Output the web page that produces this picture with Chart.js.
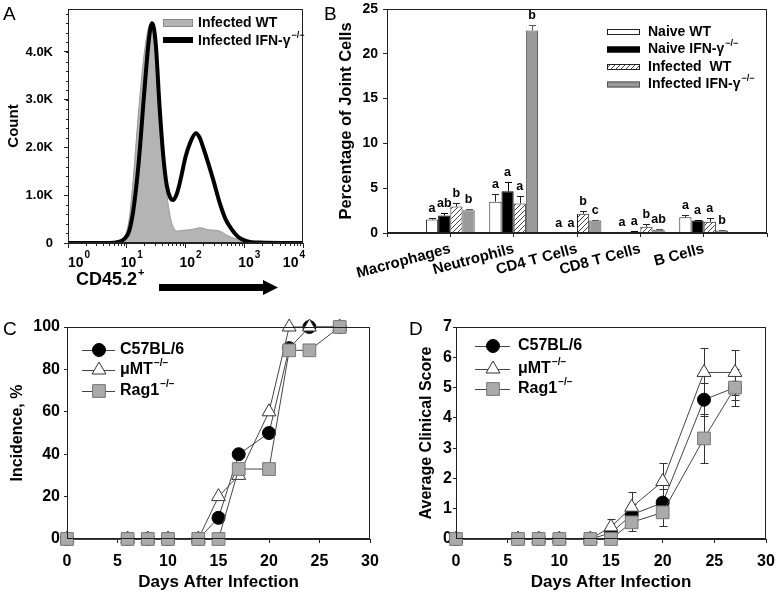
<!DOCTYPE html>
<html>
<head>
<meta charset="utf-8">
<script src="https://cdn.jsdelivr.net/npm/chart.js@4.4.1/dist/chart.umd.min.js"></script>
<style>
body { margin: 0; background: #fff; width: 776px; height: 600px; position: relative; overflow: hidden; font-family: 'Liberation Sans', Arial, sans-serif; }
canvas { position: absolute; }
.tag { position: absolute; font-size: 19px; line-height: 1; }
</style>
</head>
<body>
<canvas id="chartA" width="320" height="300" style="left:0;top:0"></canvas>
<canvas id="chartB" width="456" height="300" style="left:320px;top:0"></canvas>
<canvas id="chartC" width="388" height="300" style="left:0;top:300px"></canvas>
<canvas id="chartD" width="388" height="300" style="left:388px;top:300px"></canvas>
<div class="tag" style="left:3px;top:4px">A</div>
<div class="tag" style="left:324px;top:4px">B</div>
<div class="tag" style="left:3px;top:319px">C</div>
<div class="tag" style="left:409px;top:319px">D</div>
<script>
// ---- panel A: CD45.2 histogram (counts in thousands)
const cd45 = [1, 5, 7.5, 9, 11, 13, 16, 20, 24, 27, 31, 36, 42, 48, 55, 62, 72, 85, 100, 120, 150, 175, 200, 240, 300, 380, 480, 600, 800, 1100, 1800, 10000];
const countWT = [0, 0, 0.02, 0.1, 0.5, 1.4, 2.8, 4.0, 4.55, 4.6, 3.9, 2.9, 1.9, 1.05, 0.55, 0.33, 0.25, 0.26, 0.27, 0.28, 0.3, 0.32, 0.31, 0.28, 0.27, 0.25, 0.18, 0.12, 0.07, 0.03, 0.01, 0];
const countIFN = [0, 0, 0.03, 0.08, 0.25, 0.7, 1.7, 3.2, 4.3, 4.6, 4.2, 2.9, 1.8, 1.2, 0.95, 0.9, 1.05, 1.4, 1.8, 2.1, 2.3, 2.2, 2.0, 1.7, 1.3, 0.85, 0.5, 0.3, 0.12, 0.04, 0.01, 0];
const histLabels = ['Infected WT', 'Infected IFN-γ^−/−'];
const logTicks = [1, 10, 100, 1000, 10000];
const logTickLabels = ['10^0', '10^1', '10^2', '10^3', '10^4'];
const countTicks = [0, 1, 2, 3, 4];
const countTickLabels = ['0', '1.0K', '2.0K', '3.0K', '4.0K'];

// ---- panel B: joint cells
const cellTypes = ['Macrophages', 'Neutrophils', 'CD4 T Cells', 'CD8 T Cells', 'B Cells'];
const groups = ['Naive WT', 'Naive IFN-γ^−/−', 'Infected  WT', 'Infected IFN-γ^−/−'];
const naiveWT = [1.5, 3.5, 0.05, 0.12, 1.75];
const naiveWTErr = [0.12, 0.9, 0, 0.03, 0.22];
const naiveWTSig = ['a', 'a', 'a', 'a', 'a'];
const naiveIFN = [1.95, 4.65, 0.05, 0.15, 1.4];
const naiveIFNErr = [0.3, 1.0, 0, 0.03, 0.1];
const naiveIFNSig = ['ab', 'a', 'a', 'a', 'a'];
const infWT = [2.95, 3.3, 2.15, 0.7, 1.25];
const infWTErr = [0.38, 0.87, 0.3, 0.35, 0.4];
const infWTSig = ['b', 'a', 'b', 'b', 'a'];
const infIFN = [2.55, 22.6, 1.4, 0.35, 0.27];
const infIFNErr = [0.15, 0.6, 0.1, 0.05, 0.03];
const infIFNSig = ['b', 'b', 'c', 'ab', 'b'];

// ---- panels C and D
const strains = ['C57BL/6', 'μMT^−/−', 'Rag1^−/−'];
const daysC = [0, 6, 8, 10, 13, 15, 17, 20, 22, 24, 27];
const incC57 = [0, 0, 0, 0, 0, 10, 40, 50, 90, 100, 100];
const incMuMT = [0, 0, 0, 0, 0, 20, 30, 60, 100, 100, 100];
const incRag1 = [0, 0, 0, 0, 0, 0, 33, 33, 89, 89, 100];
const daysD = [0, 6, 8, 10, 13, 15, 17, 20, 24, 27];
const scoreC57 = [0, 0, 0, 0, 0, 0.2, 0.8, 1.2, 4.6, 5.0];
const errC57 = [0, 0, 0, 0, 0, 0.2, 0.35, 0.45, 0.55, 0.6];
const scoreMuMT = [0, 0, 0, 0, 0, 0.4, 1.05, 1.9, 5.5, 5.5];
const errMuMT = [0, 0, 0, 0, 0, 0.27, 0.5, 0.6, 0.8, 0.75];
const scoreRag1 = [0, 0, 0, 0, 0, 0, 0.55, 0.88, 3.32, 5.0];
const errRag1 = [0, 0, 0, 0, 0, 0, 0.3, 0.45, 0.8, 0.4];

const FONT = "'Liberation Sans', Arial, sans-serif";
Chart.defaults.font.family = FONT;
Chart.defaults.color = '#000';
Chart.defaults.animation = false;
Chart.defaults.plugins.legend.display = false;
Chart.defaults.plugins.tooltip.enabled = false;

const AXIS = '#222';

// fixed scale box so the plot areas line up with the figure
function fixSize(prop, val) {
  return s => {
    s[prop] = val;
    s.paddingLeft = s.paddingRight = s.paddingTop = s.paddingBottom = 0;
  };
}

// text with an optional superscript after '^'
function drawRich(ctx, text, x, y, size, supScale, supRaise) {
  const parts = text.split('^');
  ctx.textBaseline = 'middle';
  ctx.textAlign = 'left';
  ctx.font = 'bold ' + size + 'px ' + FONT;
  ctx.fillText(parts[0], x, y);
  let w = ctx.measureText(parts[0]).width;
  if (parts[1]) {
    ctx.font = 'bold ' + Math.round(size * (supScale || 0.62)) + 'px ' + FONT;
    ctx.fillText(parts[1], x + w + 1, y - size * (supRaise || 0.4));
    w += 1 + ctx.measureText(parts[1]).width;
  }
  return w;
}

function richWidth(ctx, text, size, supScale) {
  const parts = text.split('^');
  ctx.font = 'bold ' + size + 'px ' + FONT;
  let w = ctx.measureText(parts[0]).width;
  if (parts[1]) {
    ctx.font = 'bold ' + Math.round(size * (supScale || 0.62)) + 'px ' + FONT;
    w += 1 + ctx.measureText(parts[1]).width;
  }
  return w;
}

function drawMarker(ctx, st, x, y) {
  ctx.save();
  ctx.fillStyle = st.bg;
  ctx.strokeStyle = st.border;
  ctx.lineWidth = 1;
  ctx.beginPath();
  if (st.pointStyle === 'circle') {
    ctx.arc(x, y, st.radius, 0, Math.PI * 2);
  } else if (st.pointStyle === 'triangle') {
    for (let k = 0; k < 3; k++) {
      const a = k * 2 * Math.PI / 3;
      const px = x + Math.sin(a) * st.radius, py = y - Math.cos(a) * st.radius;
      k ? ctx.lineTo(px, py) : ctx.moveTo(px, py);
    }
    ctx.closePath();
  } else {
    const h = st.radius * Math.SQRT1_2;
    ctx.rect(x - h, y - h, 2 * h, 2 * h);
  }
  ctx.fill();
  ctx.stroke();
  ctx.restore();
}

const frame = {
  id: 'frame',
  afterDraw(chart) {
    const { ctx, chartArea: a } = chart;
    ctx.save();
    ctx.strokeStyle = AXIS;
    ctx.lineWidth = 1;
    ctx.strokeRect(Math.round(a.left) + 0.5, Math.round(a.top) + 0.5, Math.round(a.right - a.left) - 1, Math.round(a.bottom - a.top) - 1);
    ctx.restore();
  }
};

// ===== Panel A =====
const minorTicksA = {
  id: 'minorA',
  afterDraw(chart) {
    const { ctx, scales: { x, y }, chartArea: a } = chart;
    ctx.save();
    ctx.strokeStyle = AXIS;
    ctx.lineWidth = 1;
    ctx.beginPath();
    for (let d = 1; d < 10000; d *= 10) {
      for (let k = 2; k < 10; k++) {
        const px = Math.round(x.getPixelForValue(d * k)) + 0.5;
        ctx.moveTo(px, a.bottom);
        ctx.lineTo(px, a.bottom + 3);
      }
    }
    for (let v = 0.2; v < 4.85; v += 0.2) {
      const py = Math.round(y.getPixelForValue(v)) + 0.5;
      ctx.moveTo(a.left, py);
      ctx.lineTo(a.left - 2, py);
    }
    ctx.stroke();
    // decade labels as 10 with a raised exponent
    ctx.fillStyle = '#000';
    logTicks.forEach((v, i) => {
      const w = richWidth(ctx, logTickLabels[i], 14, 0.72);
      const left = Math.min(Math.max(x.getPixelForValue(v) - 6, a.left), a.right + 2 - w);
      drawRich(ctx, logTickLabels[i], left, 263, 14, 0.72, 0.55);
    });
    ctx.restore();
  }
};

const decorA = {
  id: 'decorA',
  afterDraw(chart) {
    const ctx = chart.ctx;
    ctx.save();
    // legend
    ctx.fillStyle = '#b4b4b4';
    ctx.fillRect(163, 19, 30, 8);
    ctx.strokeStyle = '#888';
    ctx.strokeRect(163.5, 19.5, 29, 7);
    ctx.fillStyle = '#000';
    ctx.fillRect(163, 37, 30, 6);
    drawRich(ctx, histLabels[0], 198, 23, 14);
    drawRich(ctx, histLabels[1], 198, 41, 14);
    // axis title with arrow
    drawRich(ctx, 'CD45.2^+', 76, 280, 18);
    ctx.fillRect(159, 284, 106, 7);
    ctx.beginPath();
    ctx.moveTo(263, 280);
    ctx.lineTo(278, 287.5);
    ctx.lineTo(263, 295);
    ctx.closePath();
    ctx.fill();
    ctx.restore();
  }
};

new Chart(document.getElementById('chartA'), {
  type: 'line',
  data: {
    datasets: [
      { label: histLabels[1], data: cd45.map((v, i) => ({ x: v, y: countIFN[i] })), borderColor: '#000', borderWidth: 4, pointRadius: 0, fill: false, cubicInterpolationMode: 'monotone' },
      { label: histLabels[0], data: cd45.map((v, i) => ({ x: v, y: countWT[i] })), borderColor: '#999', borderWidth: 1, backgroundColor: '#b4b4b4', pointRadius: 0, fill: 'origin', cubicInterpolationMode: 'monotone' }
    ]
  },
  options: {
    responsive: false,
    layout: { padding: { top: 9, right: 17, left: 0, bottom: 0 } },
    scales: {
      x: {
        type: 'logarithmic', min: 1, max: 10000,
        afterBuildTicks: s => { s.ticks = logTicks.map(v => ({ value: v, major: true })); },
        ticks: { display: false },
        grid: { drawOnChartArea: false, tickLength: 5, color: AXIS },
        border: { color: AXIS },
        afterFit: fixSize('height', 57)
      },
      y: {
        min: 0, max: 4.9,
        afterBuildTicks: s => { s.ticks = countTicks.map(v => ({ value: v })); },
        ticks: { callback: (v, i) => countTickLabels[i], font: { size: 13, weight: 'bold' }, padding: 11 },
        grid: { drawOnChartArea: false, tickLength: 4, color: AXIS },
        border: { color: AXIS },
        title: { display: true, text: 'Count', font: { size: 15, weight: 'bold' }, padding: { top: 5 } },
        afterFit: fixSize('width', 68)
      }
    }
  },
  plugins: [frame, minorTicksA, decorA]
});

// ===== Panel B =====
const padNull = arr => [null, ...arr, null];
const hatch = (() => {
  const c = document.createElement('canvas');
  c.width = c.height = 5;
  const g = c.getContext('2d');
  g.fillStyle = '#fff';
  g.fillRect(0, 0, 5, 5);
  g.strokeStyle = '#444';
  g.lineWidth = 1;
  g.beginPath();
  g.moveTo(0, 5); g.lineTo(5, 0);
  g.moveTo(-1, 1); g.lineTo(1, -1);
  g.moveTo(4, 6); g.lineTo(6, 4);
  g.stroke();
  return document.getElementById('chartB').getContext('2d').createPattern(c, 'repeat');
})();

const barStyles = [
  { backgroundColor: '#fff', borderColor: '#222' },
  { backgroundColor: '#000', borderColor: '#000' },
  { backgroundColor: hatch, borderColor: '#222' },
  { backgroundColor: '#9a9a9a', borderColor: '#555' }
];

const errLettersB = {
  id: 'errLettersB',
  afterDatasetsDraw(chart) {
    const { ctx, scales: { y } } = chart;
    ctx.save();
    chart.data.datasets.forEach((ds, i) => {
      const meta = chart.getDatasetMeta(i);
      ds.data.forEach((v, j) => {
        if (v === null) return;
        const bar = meta.data[j];
        const top = y.getPixelForValue(v + ds.errors[j]);
        ctx.strokeStyle = ds.borderColor;
        ctx.lineWidth = 1;
        if (ds.errors[j] > 0) {
          const x = Math.round(bar.x) + 0.5;
          ctx.beginPath();
          ctx.moveTo(x, bar.y);
          ctx.lineTo(x, Math.round(top) + 0.5);
          ctx.moveTo(x - 3.5, Math.round(top) + 0.5);
          ctx.lineTo(x + 3.5, Math.round(top) + 0.5);
          ctx.stroke();
        }
        ctx.fillStyle = '#000';
        ctx.font = 'bold 12.5px ' + FONT;
        ctx.textAlign = 'center';
        ctx.textBaseline = 'alphabetic';
        ctx.fillText(ds.letters[j], bar.x, top - 6);
      });
    });
    // legend
    chart.data.datasets.forEach((ds, i) => {
      const yy = 32 + i * 17.5;
      ctx.fillStyle = ds.backgroundColor;
      ctx.fillRect(287, yy - 3, 33, 6);
      ctx.strokeStyle = ds.borderColor;
      ctx.strokeRect(287.5, yy - 2.5, 32, 5);
      ctx.fillStyle = '#000';
      drawRich(ctx, groups[i], 328, yy, 14);
    });
    ctx.restore();
  }
};

new Chart(document.getElementById('chartB'), {
  type: 'bar',
  data: {
    labels: padNull(cellTypes).map(v => v || ''),
    datasets: [
      Object.assign({ label: groups[0], data: padNull(naiveWT), errors: padNull(naiveWTErr), letters: padNull(naiveWTSig) }, barStyles[0]),
      Object.assign({ label: groups[1], data: padNull(naiveIFN), errors: padNull(naiveIFNErr), letters: padNull(naiveIFNSig) }, barStyles[1]),
      Object.assign({ label: groups[2], data: padNull(infWT), errors: padNull(infWTErr), letters: padNull(infWTSig) }, barStyles[2]),
      Object.assign({ label: groups[3], data: padNull(infIFN), errors: padNull(infIFNErr), letters: padNull(infIFNSig) }, barStyles[3])
    ].map(d => Object.assign(d, { borderWidth: 1, categoryPercentage: 0.77, barPercentage: 1.0 }))
  },
  options: {
    responsive: false,
    layout: { padding: { top: 9, right: 9, left: 0, bottom: 0 } },
    scales: {
      x: {
        offset: false,
        ticks: { font: { size: 15, weight: 'bold' }, minRotation: 15, maxRotation: 15, autoSkip: false, padding: 3 },
        grid: { offset: false, drawOnChartArea: false, tickLength: 4, color: AXIS },
        border: { color: AXIS },
        afterFit: fixSize('height', 67)
      },
      y: {
        min: 0, max: 25,
        ticks: { stepSize: 5, font: { size: 14, weight: 'bold' }, padding: 5 },
        grid: { drawOnChartArea: false, tickLength: 4, color: AXIS },
        border: { color: AXIS },
        title: { display: true, text: 'Percentage of Joint Cells', font: { size: 16.5, weight: 'bold' }, padding: { top: 17 } },
        afterFit: fixSize('width', 67)
      }
    }
  },
  plugins: [frame, errLettersB]
});

// ===== Panels C and D =====
const strainStyles = [
  { pointStyle: 'circle', radius: 6.5, bg: '#000', border: '#000', order: 2 },
  { pointStyle: 'triangle', radius: 8, bg: '#fff', border: '#333', order: 1 },
  { pointStyle: 'rect', radius: 9, bg: '#aaa', border: '#777', order: 0 }
];

function strainDataset(i, days, values, errors) {
  const st = strainStyles[i];
  return {
    label: strains[i],
    data: days.map((d, k) => ({ x: d, y: values[k] })),
    errors: errors,
    order: st.order,
    borderColor: '#444', borderWidth: 1,
    pointStyle: st.pointStyle, pointRadius: st.radius,
    pointBackgroundColor: st.bg, pointBorderColor: st.border, pointBorderWidth: 1,
    clip: false
  };
}

const errorBars = {
  id: 'errorBars',
  beforeDatasetsDraw(chart) {
    const { ctx, scales: { y } } = chart;
    ctx.save();
    ctx.strokeStyle = '#333';
    ctx.lineWidth = 1;
    ctx.beginPath();
    chart.data.datasets.forEach((ds, i) => {
      if (!ds.errors) return;
      const meta = chart.getDatasetMeta(i);
      ds.data.forEach((p, k) => {
        const e = ds.errors[k];
        if (!e) return;
        const x = Math.round(meta.data[k].x) + 0.5;
        const t = Math.round(y.getPixelForValue(p.y + e)) + 0.5;
        const b = Math.round(y.getPixelForValue(p.y - e)) + 0.5;
        ctx.moveTo(x, t); ctx.lineTo(x, b);
        ctx.moveTo(x - 4, t); ctx.lineTo(x + 4, t);
        ctx.moveTo(x - 4, b); ctx.lineTo(x + 4, b);
      });
    });
    ctx.stroke();
    ctx.restore();
  }
};

function strainLegend(x1, x2, mx, tx, rows) {
  return {
    id: 'strainLegend',
    afterDraw(chart) {
      const ctx = chart.ctx;
      ctx.save();
      strains.forEach((s, i) => {
        ctx.strokeStyle = '#444';
        ctx.lineWidth = 1;
        ctx.beginPath();
        ctx.moveTo(x1, rows[i] + 0.5);
        ctx.lineTo(x2, rows[i] + 0.5);
        ctx.stroke();
        drawMarker(ctx, strainStyles[i], mx, rows[i]);
        ctx.fillStyle = '#000';
        drawRich(ctx, s, tx, rows[i], 16);
      });
      ctx.restore();
    }
  };
}

function lineOptions(yMax, yStep, yTitle, yWidth, yTitlePad, yTickPad, rightPad) {
  return {
    responsive: false,
    layout: { padding: { top: 27, right: rightPad, left: 0, bottom: 0 } },
    scales: {
      x: {
        type: 'linear', min: 0, max: 30,
        ticks: { stepSize: 5, font: { size: 16, weight: 'bold' }, padding: 9, maxRotation: 0 },
        grid: { drawOnChartArea: false, tickLength: 4, color: AXIS },
        border: { color: AXIS },
        title: { display: true, text: 'Days After Infection', font: { size: 17, weight: 'bold' }, padding: { bottom: 7 } },
        afterFit: fixSize('height', 61)
      },
      y: {
        min: 0, max: yMax,
        ticks: { stepSize: yStep, font: { size: 16, weight: 'bold' }, padding: yTickPad },
        grid: { drawOnChartArea: false, tickLength: 3, color: AXIS },
        border: { color: AXIS },
        title: { display: true, text: yTitle, font: { size: 16, weight: 'bold' }, padding: { top: yTitlePad } },
        afterFit: fixSize('width', yWidth)
      }
    }
  };
}

new Chart(document.getElementById('chartC'), {
  type: 'line',
  data: {
    datasets: [
      strainDataset(0, daysC, incC57),
      strainDataset(1, daysC, incMuMT),
      strainDataset(2, daysC, incRag1)
    ]
  },
  options: lineOptions(100, 20, 'Incidence, %', 67, 8, 4, 18),
  plugins: [frame, strainLegend(82, 115, 99, 120, [50, 70, 91])]
});

new Chart(document.getElementById('chartD'), {
  type: 'line',
  data: {
    datasets: [
      strainDataset(0, daysD, scoreC57, errC57),
      strainDataset(1, daysD, scoreMuMT, errMuMT),
      strainDataset(2, daysD, scoreRag1, errRag1)
    ]
  },
  options: lineOptions(7, 1, 'Average Clinical Score', 68, 29, 1, 9),
  plugins: [frame, errorBars, strainLegend(87, 122, 105, 130, [46, 69, 89])]
});
</script>
</body>
</html>
